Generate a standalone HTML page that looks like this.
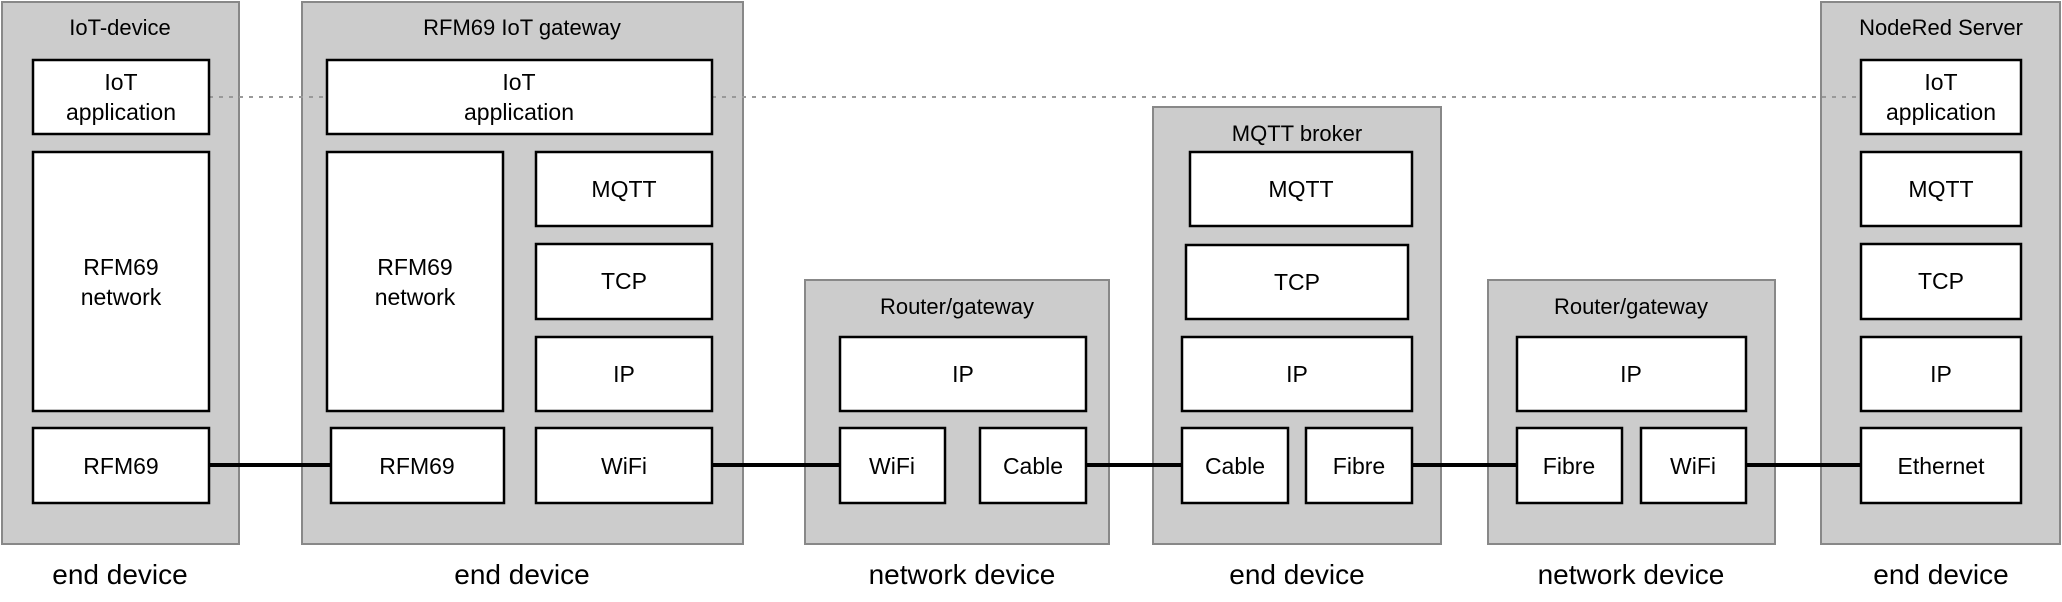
<!DOCTYPE html>
<html><head><meta charset="utf-8"><style>
html,body{margin:0;padding:0;background:#fff;}
svg{display:block;}
text{font-family:"Liberation Sans",sans-serif;fill:#000;text-anchor:middle;}
.o{fill:#cccccc;stroke:#888;stroke-width:2;}
.i{fill:#fff;stroke:#000;stroke-width:2.5;}
.t{font-size:22px;}
.b{font-size:23px;}
.l{font-size:28px;}
</style></head><body>
<svg width="2062" height="602" viewBox="0 0 2062 602" xmlns="http://www.w3.org/2000/svg">
<!-- outer boxes -->
<rect class="o" x="2" y="2" width="237" height="542"/>
<rect class="o" x="302" y="2" width="441" height="542"/>
<rect class="o" x="805" y="280" width="304" height="264"/>
<rect class="o" x="1153" y="107" width="288" height="437"/>
<rect class="o" x="1488" y="280" width="287" height="264"/>
<rect class="o" x="1821" y="2" width="239" height="542"/>

<!-- dotted line -->
<line x1="209" y1="97" x2="327" y2="97" stroke="#999" stroke-width="2" stroke-dasharray="4,6"/>
<line x1="712" y1="97" x2="1861" y2="97" stroke="#999" stroke-width="2" stroke-dasharray="4,6"/>

<!-- IoT-device -->
<text class="t" x="120" y="35">IoT-device</text>
<rect class="i" x="33" y="60" width="176" height="74"/>
<text class="b" x="121" y="90">IoT</text><text class="b" x="121" y="120">application</text>
<rect class="i" x="33" y="152" width="176" height="259"/>
<text class="b" x="121" y="275">RFM69</text><text class="b" x="121" y="305">network</text>
<rect class="i" x="33" y="428" width="176" height="75"/>
<text class="b" x="121" y="474">RFM69</text>

<!-- Gateway -->
<text class="t" x="522" y="35">RFM69 IoT gateway</text>
<rect class="i" x="327" y="60" width="385" height="74"/>
<text class="b" x="519" y="90">IoT</text><text class="b" x="519" y="120">application</text>
<rect class="i" x="327" y="152" width="176" height="259"/>
<text class="b" x="415" y="275">RFM69</text><text class="b" x="415" y="305">network</text>
<rect class="i" x="536" y="152" width="176" height="74"/>
<text class="b" x="624" y="197">MQTT</text>
<rect class="i" x="536" y="244" width="176" height="75"/>
<text class="b" x="624" y="289">TCP</text>
<rect class="i" x="536" y="337" width="176" height="74"/>
<text class="b" x="624" y="382">IP</text>
<rect class="i" x="331" y="428" width="173" height="75"/>
<text class="b" x="417" y="474">RFM69</text>
<rect class="i" x="536" y="428" width="176" height="75"/>
<text class="b" x="624" y="474">WiFi</text>

<!-- Router 1 -->
<text class="t" x="957" y="314">Router/gateway</text>
<rect class="i" x="840" y="337" width="246" height="74"/>
<text class="b" x="963" y="382">IP</text>
<rect class="i" x="840" y="428" width="105" height="75"/>
<text class="b" x="892" y="474">WiFi</text>
<rect class="i" x="980" y="428" width="106" height="75"/>
<text class="b" x="1033" y="474">Cable</text>

<!-- MQTT broker -->
<text class="t" x="1297" y="141">MQTT broker</text>
<rect class="i" x="1190" y="152" width="222" height="74"/>
<text class="b" x="1301" y="197">MQTT</text>
<rect class="i" x="1186" y="245" width="222" height="74"/>
<text class="b" x="1297" y="290">TCP</text>
<rect class="i" x="1182" y="337" width="230" height="74"/>
<text class="b" x="1297" y="382">IP</text>
<rect class="i" x="1182" y="428" width="106" height="75"/>
<text class="b" x="1235" y="474">Cable</text>
<rect class="i" x="1306" y="428" width="106" height="75"/>
<text class="b" x="1359" y="474">Fibre</text>

<!-- Router 2 -->
<text class="t" x="1631" y="314">Router/gateway</text>
<rect class="i" x="1517" y="337" width="229" height="74"/>
<text class="b" x="1631" y="382">IP</text>
<rect class="i" x="1517" y="428" width="105" height="75"/>
<text class="b" x="1569" y="474">Fibre</text>
<rect class="i" x="1641" y="428" width="105" height="75"/>
<text class="b" x="1693" y="474">WiFi</text>

<!-- NodeRed -->
<text class="t" x="1941" y="35">NodeRed Server</text>
<rect class="i" x="1861" y="60" width="160" height="74"/>
<text class="b" x="1941" y="90">IoT</text><text class="b" x="1941" y="120">application</text>
<rect class="i" x="1861" y="152" width="160" height="74"/>
<text class="b" x="1941" y="197">MQTT</text>
<rect class="i" x="1861" y="244" width="160" height="75"/>
<text class="b" x="1941" y="289">TCP</text>
<rect class="i" x="1861" y="337" width="160" height="74"/>
<text class="b" x="1941" y="382">IP</text>
<rect class="i" x="1861" y="428" width="160" height="75"/>
<text class="b" x="1941" y="474">Ethernet</text>

<!-- connections -->
<g stroke="#000" stroke-width="4">
<line x1="209" y1="465" x2="331" y2="465"/>
<line x1="712" y1="465" x2="840" y2="465"/>
<line x1="1086" y1="465" x2="1182" y2="465"/>
<line x1="1412" y1="465" x2="1517" y2="465"/>
<line x1="1746" y1="465" x2="1861" y2="465"/>
</g>

<!-- bottom labels -->
<text class="l" x="120" y="584">end device</text>
<text class="l" x="522" y="584">end device</text>
<text class="l" x="962" y="584">network device</text>
<text class="l" x="1297" y="584">end device</text>
<text class="l" x="1631" y="584">network device</text>
<text class="l" x="1941" y="584">end device</text>
</svg>
</body></html>
